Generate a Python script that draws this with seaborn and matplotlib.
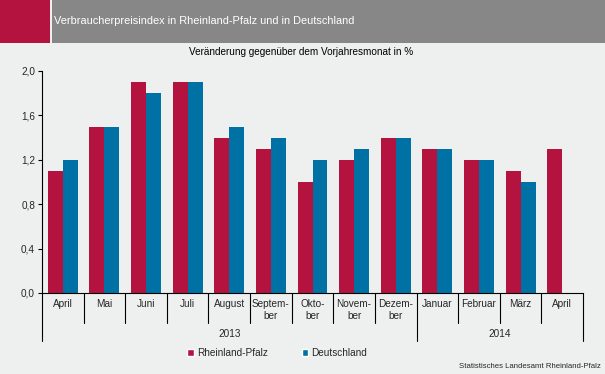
import numpy as np
import pandas as pd
import matplotlib
matplotlib.use("Agg")
import matplotlib.pyplot as plt
import matplotlib.transforms as mtransforms
from matplotlib.patches import Rectangle, Patch
import seaborn as sns

# Daten
monate = ["April", "Mai", "Juni", "Juli", "August", "Septem-\nber", "Okto-\nber",
          "Novem-\nber", "Dezem-\nber", "Januar", "Februar", "März", "April"]
jahre = ["2013", "2014"]
jahr_anzahl = [9, 4]
rheinland_pfalz = [1.1, 1.5, 1.9, 1.9, 1.4, 1.3, 1.0, 1.2, 1.4, 1.3, 1.2, 1.1, 1.3]
deutschland = [1.2, 1.5, 1.8, 1.9, 1.5, 1.4, 1.2, 1.3, 1.4, 1.3, 1.2, 1.0, np.nan]
y_ticks = [0.0, 0.4, 0.8, 1.2, 1.6, 2.0]

rot = "#B5133F"
blau = "#0071A4"
bg = "#EEF0EF"

df = pd.DataFrame({
    "pos": list(range(len(monate))) * 2,
    "wert": rheinland_pfalz + deutschland,
    "gebiet": ["Rheinland-Pfalz"] * len(monate) + ["Deutschland"] * len(monate),
}).dropna()

sns.set_style("white")
plt.rcParams["font.family"] = ["Liberation Sans", "DejaVu Sans"]
fs = 7.2

W, H = 605, 374
fig = plt.figure(figsize=(W / 100, H / 100), dpi=100, facecolor=bg)

# Kopfzeile
fig.patches.append(Rectangle((0, 1 - 43 / H), 50 / W, 43 / H, transform=fig.transFigure,
                             facecolor=rot, edgecolor="none", zorder=0))
fig.patches.append(Rectangle((52 / W, 1 - 43 / H), 1 - 52 / W, 43 / H, transform=fig.transFigure,
                             facecolor="#878787", edgecolor="none", zorder=0))
fig.text(54 / W, 1 - 21 / H, "Verbraucherpreisindex in Rheinland-Pfalz und in Deutschland",
         color="white", fontsize=7.9, va="center", ha="left")
fig.text(301 / W, 1 - 52 / H, "Veränderung gegenüber dem Vorjahresmonat in %",
         color="black", fontsize=fs, va="center", ha="center")

ax = fig.add_axes([42 / W, (H - 293) / H, (583 - 42) / W, (293 - 71) / H])
ax.set_facecolor(bg)
sns.barplot(data=df, x="pos", y="wert", hue="gebiet", hue_order=["Rheinland-Pfalz", "Deutschland"],
            palette=[rot, blau], width=0.72, linewidth=0, saturation=1, native_scale=True,
            legend=False, ax=ax)

ax.set_xlim(-0.5, len(monate) - 0.5)
ax.set_ylim(0, 2.0)
ax.set_yticks(y_ticks)
ax.set_yticklabels([f"{t:.1f}".replace(".", ",") for t in y_ticks], fontsize=fs)
ax.set_xticks([])
ax.set_xlabel("")
ax.set_ylabel("")
ax.tick_params(axis="y", length=3, width=0.8, color="black", pad=2, left=True)
for s in ["top", "right"]:
    ax.spines[s].set_visible(False)
for s in ["left", "bottom"]:
    ax.spines[s].set_color("black")
    ax.spines[s].set_linewidth(0.8)

# Kategorienachse
trans = mtransforms.blended_transform_factory(ax.transData, ax.transAxes)
px = 1 / (293 - 71)
y_monat = -(322.7 - 293) * px
y_jahr = -(340.7 - 293) * px
grenzen_jahr = [-0.5, jahr_anzahl[0] - 0.5, len(monate) - 0.5]
for i in range(len(monate) + 1):
    x = i - 0.5
    y_end = y_jahr if x in grenzen_jahr else y_monat
    ax.plot([x, x], [0, y_end], color="black", lw=0.8, transform=trans, clip_on=False)
for i, m in enumerate(monate):
    ax.text(i, -(299 - 293) * px, m, transform=trans, ha="center", va="top",
            fontsize=fs, linespacing=1.2)
start = 0
for j, n in zip(jahre, jahr_anzahl):
    ax.text(start + (n - 1) / 2, -(334 - 293) * px, j, transform=trans,
            ha="center", va="center", fontsize=fs)
    start += n

handles = [Patch(facecolor=rot, label="Rheinland-Pfalz"), Patch(facecolor=blau, label="Deutschland")]
fig.legend(handles=handles, loc="center", bbox_to_anchor=(277 / W, 1 - 353 / H), ncol=2,
           frameon=False, fontsize=fs, handlelength=0.65, handleheight=0.65, handletextpad=0.3,
           columnspacing=3.4)

fig.text(601 / W, 1 - 366 / H, "Statistisches Landesamt Rheinland-Pfalz", fontsize=5.6,
         ha="right", va="center")

fig.savefig("out.png", dpi=100, facecolor=bg)
